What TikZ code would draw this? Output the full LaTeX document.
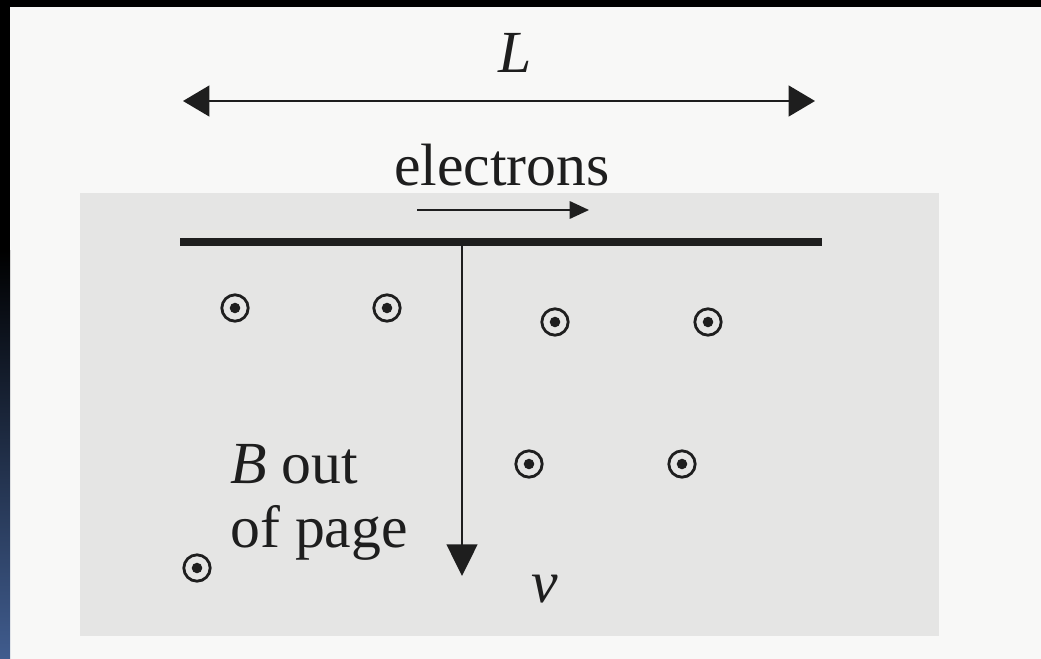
\documentclass[tikz,border=0pt]{standalone}
\usepackage{fontspec}
\setmainfont{Liberation Serif}
\usetikzlibrary{arrows.meta}
\definecolor{paper}{RGB}{248,248,247}
\definecolor{field}{RGB}{229,229,228}
\definecolor{stripblue}{RGB}{64,92,142}
\definecolor{ink}{RGB}{30,30,30}
\tikzset{
  lbl/.style={font=\fontsize{34}{36}\selectfont, text=ink, inner sep=0pt},
  bigtip/.style={-{Triangle[length=15pt,width=17.5pt]}},
  outdot/.style={circle, draw=ink, line width=1.6pt, minimum size=15pt, inner sep=0pt, path picture={\fill[ink] (path picture bounding box.center) circle (3pt);}},
}
\begin{document}
\begin{tikzpicture}[x=0.02cm,y=-0.02cm]
\useasboundingbox (0,0) rectangle (1041,659);
% background
\fill[paper] (0,0) rectangle (1041,659);
\fill[field] (80,193) rectangle (939,636);
\fill[black] (0,0) rectangle (1041,7);
\fill[black] (0,0) rectangle (10,250);
\shade[top color=black, bottom color=stripblue] (0,250) rectangle (10,659);
% L dimension
\coordinate (La) at (183,101);
\coordinate (Lb) at (815,101);
\draw[ink, line width=1.2pt, {Triangle[length=15pt,width=17.5pt]}-{Triangle[length=15pt,width=17.5pt]}] (La) -- (Lb);
\node[lbl, anchor=base] (L) at (515,72) {\itshape L};
% electrons
\node[lbl, anchor=base] (el) at (502,185) {electrons};
\coordinate (ea) at (417,210);
\coordinate (eb) at (589,210);
\draw[ink, line width=0.9pt, -{Triangle[length=11pt,width=10pt]}] (ea) -- (eb);
% conductor bar
\coordinate (ba) at (180,242);
\coordinate (bb) at (822,242);
\draw[ink, line width=4.5pt] (ba) -- (bb);
% velocity arrow
\coordinate (va) at (462,242);
\coordinate (vb) at (462,576);
\draw[ink, line width=1.2pt, -{Triangle[length=18pt,width=17.5pt]}] (va) -- (vb);
\node[lbl, anchor=base] (v) at (545,602) {\itshape v};
% B field label
\node[lbl, anchor=base west] (B1) at (230,483) {\itshape B\upshape\ out};
\node[lbl, anchor=base west] (B2) at (230,547) {of page};
% dots
\node[outdot] (d1) at (235,308) {};
\node[outdot] (d2) at (387,308) {};
\node[outdot] (d3) at (555,322) {};
\node[outdot] (d4) at (708,322) {};
\node[outdot] (d5) at (529,464) {};
\node[outdot] (d6) at (682,464) {};
\node[outdot] (d7) at (197,568) {};
\end{tikzpicture}
\end{document}
